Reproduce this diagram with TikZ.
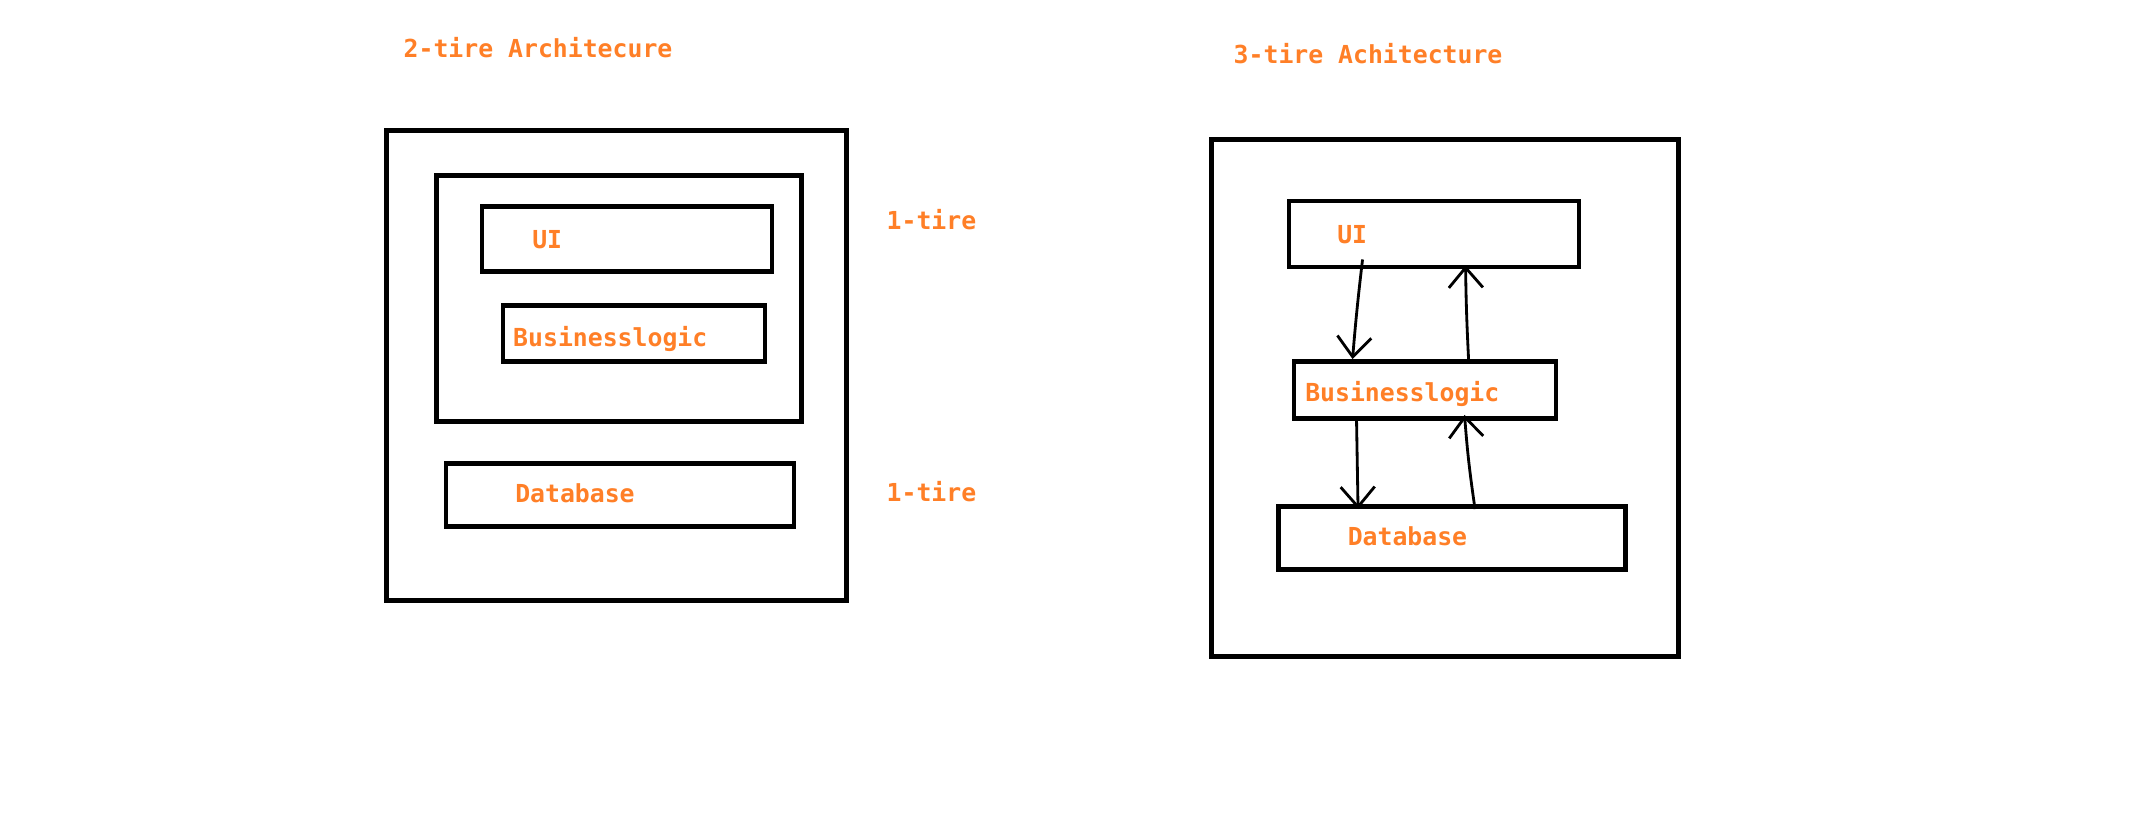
\documentclass[tikz,border=0pt]{standalone}
\usepackage{fontspec}
\usepackage{tikz}
\usetikzlibrary{arrows.meta,calc,positioning}
\newfontfamily\tiremono{DejaVu Sans Mono}
\definecolor{tireorange}{RGB}{255,127,39}

\begin{document}
\begin{tikzpicture}[
                    x=0.01cm, y=-0.01cm,
                    box/.style 2 args={draw, line width=1.4pt, inner sep=0pt,
                                       minimum width=#1*0.01cm, minimum height=#2*0.01cm},
                    lbl/.style={text=tireorange, inner sep=0pt, anchor=base west,
                                font={\fontsize{7.05}{8}\selectfont\tiremono\bfseries}},
                    conn/.style={-{Straight Barb[length=2mm,width=3.4mm]}, line width=0.8pt}
                ]
                \useasboundingbox (0,0) rectangle (2131,839);

                % 2-tire
                \node (T2)   [box={460}{470}] at (616.6,365.6) {};
                \node (IN)   [box={365}{246}] at (619,298.5)   {};
                \node (UIa)  [box={290}{65}]  at (627,239)     {};
                \node (BLa)  [box={262}{56}]  at (634,333.5)   {};
                \node (DBa)  [box={348}{63}]  at (620,494.7)   {};

                \node (T2t)  [lbl] at (403,57)  {2-tire Architecure};
                \node (UIat) [lbl] at ($(UIa.west)+(52,9)$)  {UI};
                \node (BLat) [lbl] at ($(BLa.west)+(12,12.5)$) {Businesslogic};
                \node (DBat) [lbl] at ($(DBa.west)+(71,8)$)  {Database};
                \node (L1)   [lbl] at (886,229) {1-tire};
                \node (L2)   [lbl] at (886,501) {1-tire};

                % 3-tire
                \node (T3)   [box={467}{517}] at (1445,398)    {};
                \node (UIb)  [box={290}{66}]  at (1434,234)    {};
                \node (BLb)  [box={262}{57}]  at (1425,390)    {};
                \node (DBb)  [box={347}{63}]  at (1452,538)    {};

                \node (T3t)  [lbl] at (1233,63) {3-tire Achitecture};
                \node (UIbt) [lbl] at ($(UIb.west)+(50,9)$)  {UI};
                \node (BLbt) [lbl] at ($(BLb.west)+(13,11)$) {Businesslogic};
                \node (DBbt) [lbl] at ($(DBb.west)+(71,7)$)  {Database};

                \path
                ($(UIb.south west)+(76,-10)$) edge[conn, bend right=1] ($(BLb.north west)+(61,0)$)
                ($(BLb.north west)+(177,0)$)  edge[conn, bend left=1]  ($(UIb.south west)+(179,-4)$)
                ($(BLb.south west)+(65,0)$)   edge[conn]               ($(DBb.north west)+(82,5)$)
                ($(DBb.north west)+(199,5)$)  edge[conn, bend left=2]  ($(BLb.south west)+(173,-6)$)
                ;
            \end{tikzpicture}
\end{document}
